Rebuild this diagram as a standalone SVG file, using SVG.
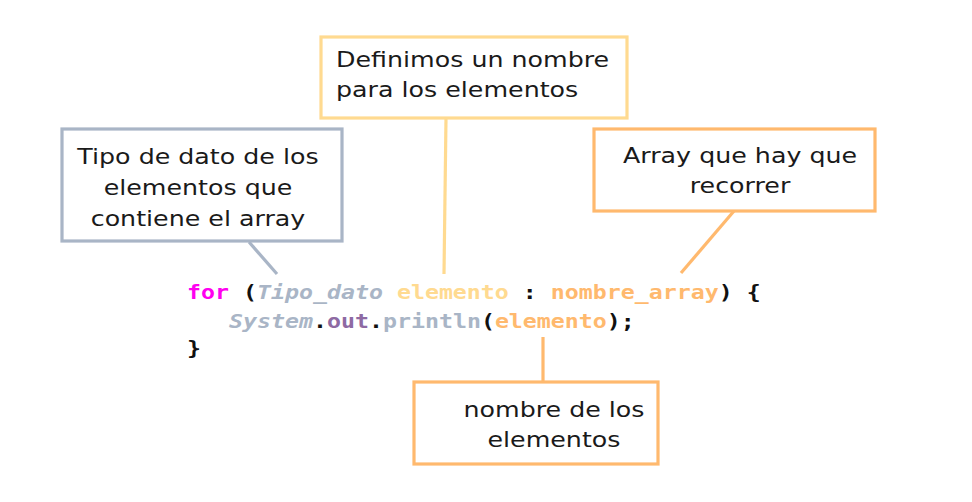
<svg xmlns="http://www.w3.org/2000/svg" width="972" height="502" viewBox="0 0 972 502">
<style>
.box{fill:#fff;stroke-width:3.2}
.g{stroke:#A9B5C6}
.y{stroke:#FFDA90}
.o{stroke:#FFB96E}
.lbl{font-family:"DejaVu Sans","Verdana",sans-serif;font-size:21px;fill:#1a1a1a}
.mid{text-anchor:middle}
.code{font-family:"DejaVu Sans Mono","Liberation Mono",monospace;font-size:20px;font-weight:bold;fill:#111}
.kw{fill:#FF00F0}
.ty{fill:#A9B5C6;font-style:italic}
.el{fill:#FFDA90}
.ar{fill:#FFB96E}
.pu{fill:#8E6AA3}
.pr{fill:#A9B5C6}
.conn line{stroke-width:3.2;fill:none}
</style>
<rect width="972" height="502" fill="#fff"/>
<g id="connectors" class="conn">
<line class="g" x1="249" y1="242" x2="277" y2="274"/>
<line class="y" x1="446" y1="118" x2="444" y2="274"/>
<line class="o" x1="734" y1="211" x2="681" y2="273"/>
<line class="o" x1="543" y1="337" x2="543" y2="382"/>
</g>
<g id="n-tipo">
<rect class="box g" x="62" y="129" width="280" height="112"/>
<g transform="translate(198,0) scale(1.205,1)">
<text class="lbl mid" x="0" y="164">Tipo de dato de los</text>
<text class="lbl mid" x="0" y="195">elementos que</text>
<text class="lbl mid" x="0" y="226">contiene el array</text>
</g>
</g>
<g id="n-nombre">
<rect class="box y" x="321" y="37" width="306" height="81"/>
<g transform="translate(336,0) scale(1.205,1)">
<text class="lbl" x="0" y="67">Definimos un nombre</text>
<text class="lbl" x="0" y="97">para los elementos</text>
</g>
</g>
<g id="n-array">
<rect class="box o" x="594" y="129" width="281" height="82"/>
<g transform="translate(740,0) scale(1.205,1)">
<text class="lbl mid" x="0" y="163">Array que hay que</text>
<text class="lbl mid" x="0" y="193">recorrer</text>
</g>
</g>
<g id="n-elem">
<rect class="box o" x="414" y="382" width="244" height="82"/>
<g transform="translate(554,0) scale(1.205,1)">
<text class="lbl mid" x="0" y="417">nombre de los</text>
<text class="lbl mid" x="0" y="447">elementos</text>
</g>
</g>
<g id="code" transform="translate(187,0) scale(1.1628,1)">
<text class="code" x="0" y="299"><tspan class="kw">for</tspan> (<tspan class="ty">Tipo_dato</tspan> <tspan class="el">elemento</tspan> : <tspan class="ar">nombre_array</tspan>) {</text>
<text class="code" x="36.12" y="328"><tspan class="ty">System</tspan>.<tspan class="pu">out</tspan>.<tspan class="pr">println</tspan>(<tspan class="ar">elemento</tspan>);</text>
<text class="code" x="0" y="355">}</text>
</g>
</svg>
